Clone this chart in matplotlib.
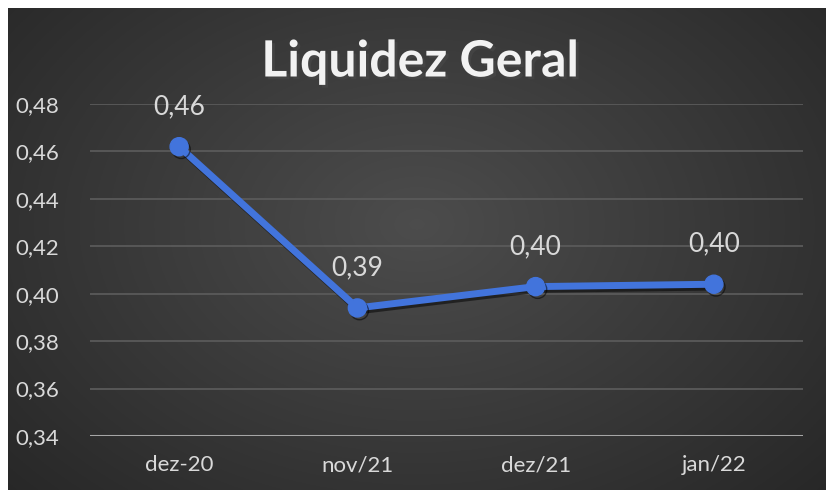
import numpy as np
import matplotlib
matplotlib.use("Agg")
import matplotlib.pyplot as plt
import matplotlib.patheffects as pe

# data
categories = ["dez-20", "nov/21", "dez/21", "jan/22"]
values = [0.462, 0.394, 0.403, 0.404]
labels = ["0,46", "0,39", "0,40", "0,40"]
yticks = [0.34, 0.36, 0.38, 0.40, 0.42, 0.44, 0.46, 0.48]

plt.rcParams['font.family'] = ['Lato', 'DejaVu Sans']

W, H = 827, 490
fig = plt.figure(figsize=(W / 100, H / 100), dpi=100)
fig.patch.set_facecolor("white")

# dark radial gradient panel
bg = fig.add_axes([8 / W, 0, 818 / W, 482 / H], zorder=-1)
yy, xx = np.mgrid[0:1:300j, 0:1:500j]
r = np.sqrt(((xx - 0.5) / 0.75) ** 2 + ((yy - 0.45) / 0.9) ** 2)
shade = 0.30 - 0.16 * np.clip(r, 0, 1)
bg.imshow(np.dstack([shade] * 3), aspect="auto", extent=[0, 1, 0, 1])
bg.axis("off")

ax = fig.add_axes([90 / W, 54 / H, 713 / W, 332 / H])
ax.set_facecolor("none")
x = np.arange(len(categories))

ax.set_ylim(0.34, 0.48)
ax.set_xlim(-0.5, len(categories) - 0.5)
ax.set_yticks(yticks)
ax.set_yticklabels([f"{v:.2f}".replace(".", ",") for v in yticks])
ax.set_xticks(x)
ax.set_xticklabels(categories)
ax.tick_params(length=0, colors="#d9d9d9", labelsize=16)
ax.tick_params(axis="y", pad=22)
ax.tick_params(axis="x", pad=14)
for s in ax.spines.values():
    s.set_visible(False)
ax.grid(axis="y", color="#5a5a5a", lw=1.3)
ax.axhline(0.34, color="#a6a6a6", lw=2.2, zorder=2)

shadow = [pe.SimpleLineShadow(offset=(1.5, -2), shadow_color="black", alpha=0.5), pe.Normal()]
ax.plot(x, values, color="#4274dc", lw=5, marker="o", ms=13,
        solid_capstyle="round", zorder=3, path_effects=shadow)

for xi, v, t in zip(x, values, labels):
    ax.annotate(t, (xi, v), xytext=(0, 20), textcoords="offset points",
                ha="center", va="bottom", color="#d9d9d9", fontsize=19)

fig.text(420 / W, 1 - 62 / H, "Liquidez Geral", ha="center", va="center",
         color="#f2f2f2", fontsize=36, fontweight="bold",
         path_effects=[pe.withSimplePatchShadow(offset=(2, -2), alpha=0.6)])

fig.savefig("out.png", dpi=100)
